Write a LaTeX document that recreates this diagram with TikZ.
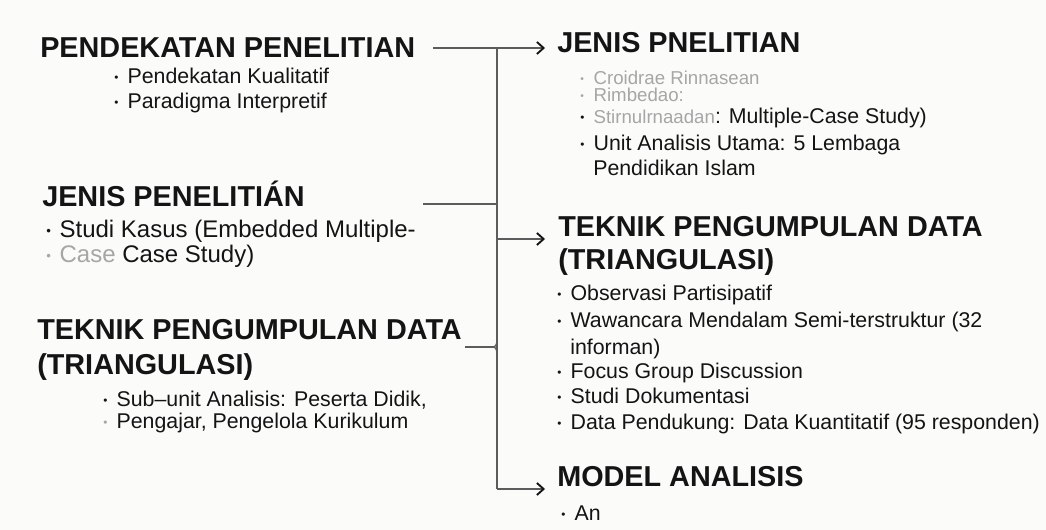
\documentclass[tikz,border=0pt]{standalone}
\usepackage{fontspec}
\setmainfont{Liberation Sans}
\usepackage{xcolor}
\usepackage{graphicx}
\usetikzlibrary{arrows.meta}

\definecolor{ink}{HTML}{141414}
\definecolor{linegray}{HTML}{5C5C5C}
\definecolor{fadegray}{HTML}{A6A6A6}
\definecolor{paper}{HTML}{FBFBF9}
\newcommand{\itm}{\makebox[10pt][l]{\raisebox{0.12em}{\scalebox{0.55}{\textbullet}}}}

\begin{document}
\begin{tikzpicture}[
    x=0.75pt, y=-0.75pt,
    heading/.style={anchor=base west, inner sep=0pt, text=ink,
        font=\fontsize{21.6}{24}\selectfont\bfseries},
    entry/.style={anchor=base west, inner sep=0pt, text=ink,
        font=\fontsize{16}{19}\selectfont},
    bigentry/.style={entry, font=\fontsize{18}{21}\selectfont},
    faint/.style={entry, text=fadegray, font=\fontsize{14}{16}\selectfont},
    link/.style={draw=linegray, line width=1pt},
    arrowlink/.style={link, -{Straight Barb[length=5pt,width=9pt,line width=1.4pt,color=ink]}}
]
    % page
    \fill[paper] (0,0) rectangle (1046,530);
    \useasboundingbox (0,0) rectangle (1046,530);

    % left column
    \node[heading] (pendekatan) at (40,58) {PENDEKATAN PENELITIAN};
    \node[entry] (kualitatif) at (114,84) {\itm Pendekatan Kualitatif};
    \node[entry] (paradigma) at (114,109) {\itm Paradigma Interpretif};

    \node[heading] (jenisL) at (42,207) {JENIS PENELITIÁN};
    \node[bigentry] (studi) at (46,238) {\itm Studi Kasus (Embedded Multiple-};
    \node[bigentry] (studiB) at (46,263) {\textcolor{fadegray}{\itm Case} Case Study)};

    \node[heading] (teknikL) at (37,340) {TEKNIK PENGUMPULAN DATA};
    \node[heading] (triL) at (37,375) {(TRIANGULASI)};
    \node[entry] (subunit) at (103,407) {\itm Sub–unit Analisis: Peserta Didik,};
    \node[entry] (subunitB) at (103,429) {\textcolor{fadegray}{\itm}Pengajar, Pengelola Kurikulum};

    % right column
    \node[heading] (jenisR) at (557,53) {JENIS PNELITIAN};
    \node[faint] (garbA) at (580,85) {\itm Croidrae Rinnasean};
    \node[faint] (garbB) at (580,102) {\itm Rimbedao:};
    \node[entry] (multi) at (580,124) {\itm\textcolor{fadegray}{\fontsize{14}{16}\selectfont Stirnulrnaadan}: Multiple-Case Study)};
    \node[entry] (unit) at (580,151) {\itm Unit Analisis Utama: 5 Lembaga};
    \node[entry] (unitB) at (593,176) {Pendidikan Islam};

    \node[heading] (teknikR) at (558,237) {TEKNIK PENGUMPULAN DATA};
    \node[heading] (triR) at (558,270) {(TRIANGULASI)};
    \node[entry] (obs) at (557,301) {\itm Observasi Partisipatif};
    \node[entry] (waw) at (557,328) {\itm Wawancara Mendalam Semi-terstruktur (32};
    \node[entry] (wawB) at (570,355) {informan)};
    \node[entry] (fgd) at (557,379) {\itm Focus Group Discussion};
    \node[entry] (dok) at (557,404) {\itm Studi Dokumentasi};
    \node[entry] (kuan) at (557,430) {\itm Data Pendukung: Data Kuantitatif (95 responden)};

    \node[heading] (model) at (557,487) {MODEL ANALISIS};
    \node[entry] (an) at (561,521) {\itm An};

    % spine and links
    \coordinate (top) at (497,48);
    \coordinate (bottom) at (497,489);
    \coordinate (fromPend) at (433,48);
    \coordinate (fromJenis) at (423,204);
    \coordinate (fromTeknik) at (465,347);

    \draw[link] (fromPend) -- (top) -- (bottom);
    \draw[link] (fromJenis) -- (fromJenis -| top);
    \draw[link] (fromTeknik) -- ([xshift=-3pt]fromTeknik -| top);
    \draw[link] ([shift={(0,-7)}]fromTeknik -| top)
        to[out=-90, in=0] ([xshift=-3pt]fromTeknik -| top)
        to[out=0, in=90] ([shift={(0,7)}]fromTeknik -| top);

    \draw[arrowlink] (top) -- ([shift={(-12,-5)}]jenisR.base west);
    \draw[arrowlink] (top |- 0,239) -- ([shift={(-13,2)}]teknikR.base west);
    \draw[arrowlink] (bottom) -- ([shift={(-12,2)}]model.base west);
\end{tikzpicture}
\end{document}
